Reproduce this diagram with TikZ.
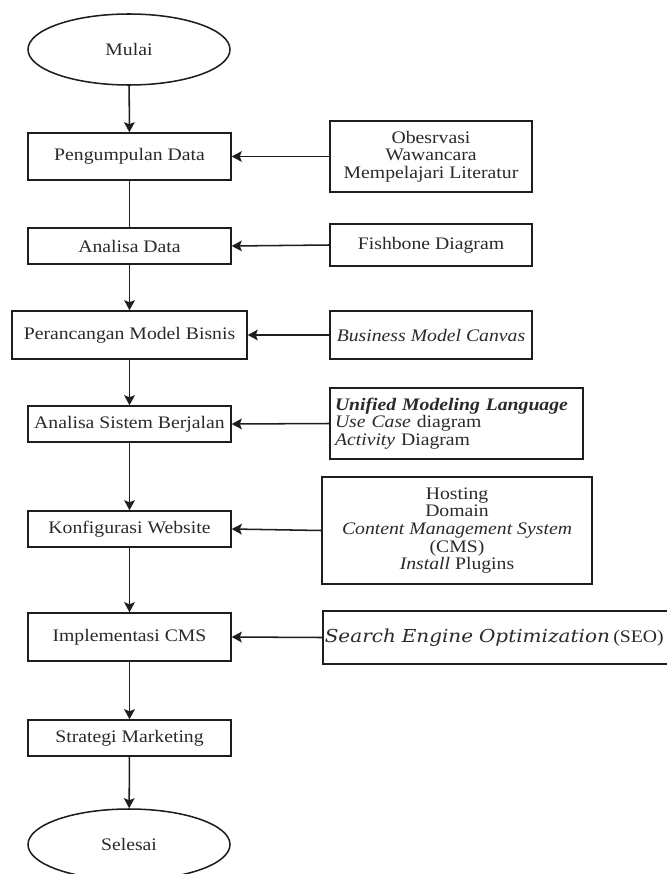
\documentclass[tikz,border=0pt]{standalone}
\usepackage{fontspec}
\setmainfont[FakeStretch=1.12]{Liberation Serif}
\newfontfamily\seoit[FakeStretch=1.12]{DejaVu Serif}
\usetikzlibrary{shapes.geometric,arrows.meta}
\definecolor{ink}{HTML}{1E1E1E}
\definecolor{txt}{HTML}{2A2A2A}
\begin{document}
\begin{tikzpicture}[x=0.75pt,y=-0.75pt,
  every node/.style={font=\fontsize{13.2}{13.2}\selectfont, text=txt},
  box/.style={draw=ink, line width=1.15pt, rectangle, inner sep=1pt, align=center},
  term/.style={draw=ink, line width=1.15pt, ellipse, inner sep=0pt, minimum width=202*0.75pt, minimum height=71*0.75pt},
  arr/.style={draw=ink, line width=1.15pt, -{Stealth[length=7.5pt,width=8pt,inset=1.5pt]}},
  ln/.style={draw=ink, line width=1.15pt}]
\clip (0,0) rectangle (667,874);
\fill[white] (0,0) rectangle (667,874);
% left column
\node[term] (mulai) at (129,49.5) {Mulai};
\node[box, minimum width=203*0.75pt, minimum height=47*0.75pt] (peng) at (129.5,156.5) {Pengumpulan Data};
\node[box, minimum width=203*0.75pt, minimum height=36*0.75pt] (anal) at (129.5,246) {Analisa Data};
\node[box, minimum width=235*0.75pt, minimum height=48*0.75pt] (peran) at (129.5,335) {Perancangan Model Bisnis};
\node[box, minimum width=203*0.75pt, minimum height=36*0.75pt] (asb) at (129.5,424) {Analisa Sistem Berjalan};
\node[box, minimum width=203*0.75pt, minimum height=36*0.75pt] (konf) at (129.5,529) {Konfigurasi Website};
\node[box, minimum width=203*0.75pt, minimum height=48*0.75pt] (impl) at (129.5,637) {Implementasi CMS};
\node[box, minimum width=203*0.75pt, minimum height=36*0.75pt] (strat) at (129.5,738) {Strategi Marketing};
\node[term] (sel) at (129,844.5) {Selesai};
% right column
\node[box, minimum width=202*0.75pt, minimum height=71*0.75pt] (obs) at (431,156.5) {Obesrvasi\\Wawancara\\Mempelajari Literatur};
\node[box, minimum width=202*0.75pt, minimum height=42*0.75pt] (fish) at (431,245) {Fishbone Diagram};
\node[box, minimum width=202*0.75pt, minimum height=48*0.75pt] (bmc) at (431,335) {\textit{Business Model Canvas}};
\node[box, minimum width=253*0.75pt, minimum height=71*0.75pt, text width=243*0.75pt, align=left, inner xsep=5*0.75pt] (uml) at (456.5,423.5) {\textbf{\textit{Unified Modeling Language}}\\\textit{Use Case} diagram\\\textit{Activity} Diagram};
\node[box, minimum width=270*0.75pt, minimum height=107*0.75pt] (host) at (457,530.5) {Hosting\\Domain\\\textit{Content Management System}\\(CMS)\\\textit{Install} Plugins};
\node[box, anchor=west, minimum height=53*0.75pt, text width=440*0.75pt, align=left, inner xsep=2*0.75pt] (seo) at (322,637.5) {{\fontsize{13.4}{13.4}\selectfont\seoit\itshape Search Engine Optimization}\hspace{2.5pt}(SEO)};
% connectors
\draw[arr] (mulai) -- (peng);
\draw[ln] (peng) -- (anal);
\draw[arr] (anal) -- (peran);
\draw[arr] (peran) -- (asb);
\draw[arr] (asb) -- (konf);
\draw[arr] (konf) -- (impl);
\draw[arr] (impl) -- (strat);
\draw[arr] (strat) -- (sel);
\draw[arr] (obs.west) -- (peng.east);
\draw[arr] (fish.west) -- (anal.east);
\draw[arr] (bmc.west) -- (peran.east);
\draw[arr] (uml.west) -- (asb.east);
\draw[arr] (host.west) -- (konf.east);
\draw[arr] (seo.west) -- (impl.east);
\end{tikzpicture}
\end{document}
